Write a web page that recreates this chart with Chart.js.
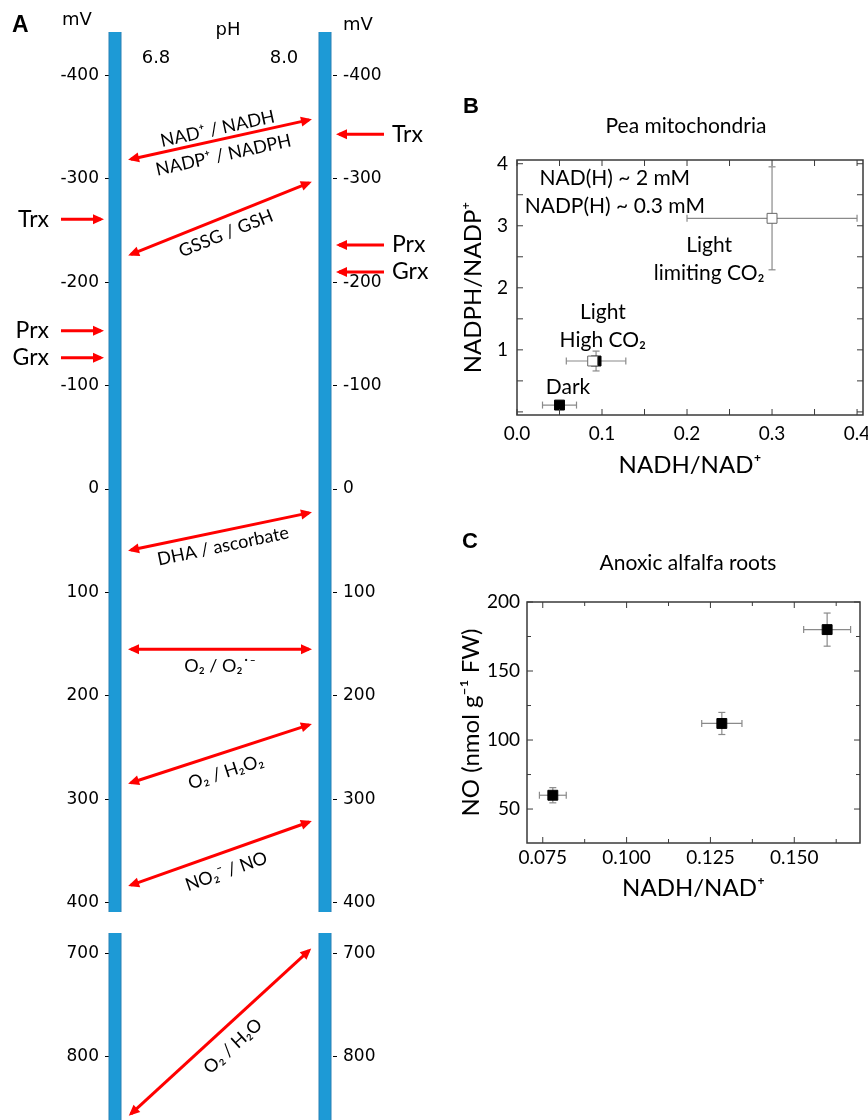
<!DOCTYPE html>
<html>
<head>
<meta charset="utf-8">
<script src="https://cdn.jsdelivr.net/npm/chart.js@4.4.1/dist/chart.umd.min.js"></script>
<style>
  html, body { margin: 0; padding: 0; background: #fff; overflow: hidden; }
  #wrap { position: relative; width: 868px; height: 1120px; overflow: hidden; }
  canvas { position: absolute; }
</style>
</head>
<body>
<div id="wrap">
  <canvas id="panelA" style="left:0;top:0" width="440" height="930"></canvas>
  <canvas id="panelA2" style="left:0;top:905px" width="440" height="250"></canvas>
  <canvas id="panelB" style="left:440px;top:80px" width="450" height="420"></canvas>
  <canvas id="panelC" style="left:440px;top:520px" width="428" height="400"></canvas>
</div>
<script>
// ---- Panel A : midpoint potentials (mV) at pH 6.8 and pH 8.0 ----
const pH = [6.8, 8.0];
const mvTicksUpper = [-400, -300, -200, -100, 0, 100, 200, 300, 400];
const mvTicksLower = [700, 800];

const coupleLabels = [
  ["NAD⁺ / NADH", "NADP⁺ / NADPH"],
  ["GSSG / GSH"],
  ["DHA / ascorbate"],
  ["O₂ / O₂˙⁻"],
  ["O₂ / H₂O₂"],
  ["NO₂⁻ / NO"],
  ["O₂ / H₂O"]
];
const coupleMvPh68 = [-319, -227, 59, 155, 284, 383, 855];
const coupleMvPh80 = [-357, -296, 23, 155, 228, 322, 697];

const proteins = ["Trx", "Prx", "Grx"];
const proteinMvPh68 = [-261, -153, -127];
const proteinMvPh80 = [-343, -236, -210];

// ---- Panel B : pea mitochondria ----
const bFilledNadh = [0.050, 0.093];
const bFilledNadhErr = [0.020, 0.035];
const bFilledNadph = [0.11, 0.82];
const bFilledNadphErr = [0.03, 0.16];
const bOpenNadh = [0.089, 0.300];
const bOpenNadhErr = [0, 0.100];
const bOpenNadph = [0.82, 3.12];
const bOpenNadphErr = [0, 0.83];
const bXTicks = [0, 0.1, 0.2, 0.3, 0.4];
const bYTicks = [1, 2, 3, 4];

// ---- Panel C : anoxic alfalfa roots ----
const cNadh = [0.078, 0.1284, 0.1598];
const cNadhErr = [0.004, 0.006, 0.007];
const cNo = [60, 112, 180];
const cNoErr = [5.5, 8, 12];
const cXTicks = [0.075, 0.1, 0.125, 0.15];
const cYTicks = [50, 100, 150, 200];

// styles
const BAR_BLUE = "#1d9ad6";
const BAR_EDGE = "#2a80b4";
const RED = "#ff0000";
const ERR_GREY = "#8a8a8a";
const CAL = 'Lato, "Open Sans", sans-serif';
const DJV = '"DejaVu Sans", sans-serif';

// x positions of panel A in pH units (175 px per pH unit)
const A_XMIN = 6.76571, A_XMAX = 8.04571;
const ARROW_L = 6.8914, ARROW_R = 7.9086;
const PROT_L_TAIL = 6.4914, PROT_L_TIP = 6.72;
const PROT_R_TAIL = 8.3371, PROT_R_TIP = 8.08;
const labelOffsets = [[-11, 16], [16], [15], [17], [19], [19], [19]];

function drawHead(ctx, from, to, color) {
  const ang = Math.atan2(to.y - from.y, to.x - from.x);
  ctx.save();
  ctx.translate(to.x + Math.cos(ang) * 3, to.y + Math.sin(ang) * 3);
  ctx.rotate(ang);
  ctx.beginPath();
  ctx.moveTo(0, 0);
  ctx.lineTo(-11, -5);
  ctx.lineTo(-11, 5);
  ctx.closePath();
  ctx.fillStyle = color;
  ctx.fill();
  ctx.restore();
}

const redoxPlugin = {
  id: "redox",
  afterDatasetsDraw(chart, args, opts) {
    const ctx = chart.ctx;
    chart.data.datasets.forEach((ds, i) => {
      if (!ds.heads) return;
      const pts = chart.getDatasetMeta(i).data;
      const a = pts[0], b = pts[1];
      drawHead(ctx, a, b, RED);
      if (ds.heads === "both") drawHead(ctx, b, a, RED);
      ctx.save();
      ctx.fillStyle = "#000";
      if (ds.texts) {
        const ang = Math.atan2(b.y - a.y, b.x - a.x);
        const mx = (a.x + b.x) / 2, my = (a.y + b.y) / 2;
        ds.texts.forEach((t, k) => {
          const off = ds.offsets[k];
          ctx.save();
          ctx.translate(mx - Math.sin(ang) * off, my + Math.cos(ang) * off);
          ctx.rotate(ang);
          ctx.font = "18px " + CAL;
          ctx.textAlign = "center";
          ctx.textBaseline = "middle";
          ctx.fillText(t, 0, 0);
          ctx.restore();
        });
      }
      if (ds.name) {
        ctx.font = "23px " + CAL;
        ctx.textBaseline = "middle";
        if (ds.side === "left") {
          ctx.textAlign = "right";
          ctx.fillText(ds.name, a.x - 12, a.y);
        } else {
          ctx.textAlign = "left";
          ctx.fillText(ds.name, a.x + 8, a.y);
        }
      }
      ctx.restore();
    });

    if (opts.headers) {
      const xs = chart.scales.x;
      ctx.save();
      ctx.fillStyle = "#000";
      ctx.textBaseline = "alphabetic";
      ctx.font = "bold 23px 'Liberation Sans', Arial, sans-serif";
      ctx.textAlign = "left";
      ctx.fillText("A", 12, 32);
      ctx.font = "18px " + DJV;
      ctx.fillText("mV", 62, 25);
      ctx.fillText("mV", 343, 30);
      ctx.textAlign = "center";
      ctx.fillText("pH", 228, 35);
      ctx.fillText(pH[0].toFixed(1), xs.getPixelForValue(pH[0]) + 41, 63);
      ctx.fillText(pH[1].toFixed(1), xs.getPixelForValue(pH[1]) - 41, 63);
      ctx.restore();
    }
  }
};

function mvAxis(position, width, ticks, min, max) {
  return {
    type: "linear",
    position: position,
    reverse: true,
    min: min,
    max: max,
    afterBuildTicks: s => { s.ticks = ticks.map(v => ({ value: v })); },
    afterFit: s => { s.width = width; },
    border: { display: false },
    grid: { drawOnChartArea: false, tickLength: 4, color: "#000", tickColor: "#000" },
    ticks: { padding: 6, color: "#000", font: { family: DJV, size: 17 }, callback: v => String(v) }
  };
}

function buildRedox(id, min, max, ticks, padTop, padBottom, headers) {
  const inRange = v => v >= min && v <= max;
  const datasets = [];
  pH.forEach(p => {
    datasets.push({ data: [{ x: p, y: min }, { x: p, y: max }], borderColor: BAR_EDGE, borderWidth: 13, order: 3, clip: false });
    datasets.push({ data: [{ x: p, y: min }, { x: p, y: max }], borderColor: BAR_BLUE, borderWidth: 11, order: 2, clip: false });
  });
  coupleLabels.forEach((lab, i) => {
    if (!inRange(coupleMvPh68[i]) || !inRange(coupleMvPh80[i])) return;
    datasets.push({
      data: [{ x: ARROW_L, y: coupleMvPh68[i] }, { x: ARROW_R, y: coupleMvPh80[i] }],
      borderColor: RED, borderWidth: 3, order: 1, clip: false,
      heads: "both", texts: lab, offsets: labelOffsets[i]
    });
  });
  proteins.forEach((name, i) => {
    if (inRange(proteinMvPh68[i])) {
      datasets.push({
        data: [{ x: PROT_L_TAIL, y: proteinMvPh68[i] }, { x: PROT_L_TIP, y: proteinMvPh68[i] }],
        borderColor: RED, borderWidth: 3, order: 1, clip: false, heads: "end", name: name, side: "left"
      });
    }
    if (inRange(proteinMvPh80[i])) {
      datasets.push({
        data: [{ x: PROT_R_TAIL, y: proteinMvPh80[i] }, { x: PROT_R_TIP, y: proteinMvPh80[i] }],
        borderColor: RED, borderWidth: 3, order: 1, clip: false, heads: "end", name: name, side: "right"
      });
    }
  });

  return new Chart(document.getElementById(id), {
    type: "line",
    data: { datasets },
    options: {
      responsive: false,
      animation: false,
      events: [],
      layout: { padding: { left: 48, right: 0, top: padTop, bottom: padBottom } },
      elements: { point: { radius: 0 }, line: { tension: 0 } },
      plugins: { legend: { display: false }, tooltip: { enabled: false }, redox: { headers: headers } },
      scales: {
        x: { type: "linear", display: false, min: A_XMIN, max: A_XMAX },
        y: mvAxis("left", 61, ticks, min, max),
        y2: mvAxis("right", 107, ticks, min, max)
      }
    },
    plugins: [redoxPlugin]
  });
}

buildRedox("panelA", -442, 409, mvTicksUpper, 32, 18, true);
buildRedox("panelA2", 680, 861, mvTicksLower, 28, 35, false);

// ---- shared helpers for B and C ----
function errSet(points, rot, order) {
  return {
    data: points, showLine: true, borderColor: ERR_GREY, borderWidth: 1.2,
    pointStyle: "line", pointRotation: rot, pointRadius: 3.5,
    pointBorderColor: ERR_GREY, pointBorderWidth: 1.2, order: order, clip: false
  };
}
function errorBars(xs, ys, xErr, yErr, order) {
  const sets = [];
  xs.forEach((x, i) => {
    if (xErr[i]) sets.push(errSet([{ x: x - xErr[i], y: ys[i] }, { x: x + xErr[i], y: ys[i] }], 90, order));
    if (yErr[i]) sets.push(errSet([{ x: x, y: ys[i] - yErr[i] }, { x: x, y: ys[i] + yErr[i] }], 0, order));
  });
  return sets;
}
function markers(xs, ys, fill, edge, order) {
  return {
    data: xs.map((x, i) => ({ x: x, y: ys[i] })),
    pointStyle: "rect", pointRadius: 7, pointBackgroundColor: fill,
    pointBorderColor: edge, pointBorderWidth: 1, order: order, clip: false
  };
}

const framePlugin = {
  id: "frame",
  afterDraw(chart, args, o) {
    const { ctx, chartArea: ca } = chart;
    const xs = chart.scales.x, ys = chart.scales.y;
    ctx.save();
    ctx.strokeStyle = "#3a3a3a";
    ctx.lineWidth = 1;
    const near = (v, step) => Math.abs(v / step - Math.round(v / step)) < 1e-6;
    for (let k = Math.ceil(xs.min / o.xStep - 1e-9); k * o.xStep <= xs.max + 1e-9; k++) {
      const v = k * o.xStep;
      const px = xs.getPixelForValue(v);
      const len = near(v, o.xMajor) ? 6 : 4;
      ctx.beginPath();
      ctx.moveTo(px, ca.bottom); ctx.lineTo(px, ca.bottom - len);
      ctx.moveTo(px, ca.top); ctx.lineTo(px, ca.top + len);
      ctx.stroke();
    }
    for (let k = Math.ceil(ys.min / o.yStep - 1e-9); k * o.yStep <= ys.max + 1e-9; k++) {
      const v = k * o.yStep;
      const py = ys.getPixelForValue(v);
      const len = near(v, o.yMajor) ? 6 : 4;
      ctx.beginPath();
      ctx.moveTo(ca.left, py); ctx.lineTo(ca.left + len, py);
      ctx.moveTo(ca.right, py); ctx.lineTo(ca.right - len, py);
      ctx.stroke();
    }
    ctx.lineWidth = 1.5;
    ctx.strokeRect(ca.left, ca.top, ca.right - ca.left, ca.bottom - ca.top);

    ctx.fillStyle = "#000";
    ctx.textBaseline = "alphabetic";
    ctx.font = "bold 22px 'Liberation Sans', Arial, sans-serif";
    ctx.textAlign = "left";
    ctx.fillText(o.letter, o.letterAt[0], o.letterAt[1]);
    ctx.font = "21px " + CAL;
    ctx.textAlign = "center";
    ctx.fillText(o.title, o.titleAt[0], o.titleAt[1]);
    ctx.textBaseline = "middle";
    (o.notes || []).forEach(n => {
      ctx.fillText(n.text, xs.getPixelForValue(n.x), ys.getPixelForValue(n.y));
    });
    ctx.restore();
  }
};

function frameAxis(pos, min, max, ticks, fmt, title, size, padding) {
  const ax = {
    type: "linear", position: pos, min: min, max: max,
    afterBuildTicks: s => { s.ticks = ticks.map(v => ({ value: v })); },
    border: { display: false },
    grid: { display: false, drawTicks: false },
    ticks: { padding: padding, color: "#000", font: { family: CAL, size: 19 }, callback: fmt },
    title: { display: true, text: title, color: "#000", font: { family: CAL, size: 24 }, padding: 0 }
  };
  if (pos === "left") ax.afterFit = s => { s.width = size; };
  else ax.afterFit = s => { s.height = size; };
  return ax;
}

// ---- Panel B ----
new Chart(document.getElementById("panelB"), {
  type: "scatter",
  data: {
    datasets: [
      ...errorBars(bFilledNadh, bFilledNadph, bFilledNadhErr, bFilledNadphErr, 3),
      ...errorBars(bOpenNadh, bOpenNadph, bOpenNadhErr, bOpenNadphErr, 3),
      markers(bFilledNadh, bFilledNadph, "#000", "#000", 2),
      markers(bOpenNadh, bOpenNadph, "#fff", "#666", 1)
    ]
  },
  options: {
    responsive: false, animation: false, events: [],
    layout: { padding: { left: 19, right: 27, top: 80, bottom: 20 } },
    plugins: {
      legend: { display: false }, tooltip: { enabled: false },
      frame: {
        xStep: 0.05, xMajor: 0.05, yStep: 0.5, yMajor: 0.5,
        letter: "B", letterAt: [23, 33], title: "Pea mitochondria", titleAt: [246, 53],
        notes: [
          { text: "NAD(H) ~ 2 mM", x: 0.115, y: 3.76 },
          { text: "NADP(H) ~ 0.3 mM", x: 0.115, y: 3.31 },
          { text: "Light", x: 0.226, y: 2.68 },
          { text: "limiting CO₂", x: 0.226, y: 2.23 },
          { text: "Light", x: 0.101, y: 1.61 },
          { text: "High CO₂", x: 0.101, y: 1.16 },
          { text: "Dark", x: 0.060, y: 0.39 }
        ]
      }
    },
    scales: {
      x: frameAxis("bottom", 0, 0.407, bXTicks, v => v.toFixed(1), "NADH/NAD⁺", 65, 7),
      y: frameAxis("left", -0.05, 4.06, bYTicks, v => String(v), "NADPH/NADP⁺", 58, 9)
    }
  },
  plugins: [framePlugin]
});

// ---- Panel C ----
new Chart(document.getElementById("panelC"), {
  type: "scatter",
  data: {
    datasets: [
      ...errorBars(cNadh, cNo, cNadhErr, cNoErr, 2),
      markers(cNadh, cNo, "#000", "#000", 1)
    ]
  },
  options: {
    responsive: false, animation: false, events: [],
    layout: { padding: { left: 17, right: 6, top: 82, bottom: 17 } },
    plugins: {
      legend: { display: false }, tooltip: { enabled: false },
      frame: {
        xStep: 0.0125, xMajor: 0.025, yStep: 25, yMajor: 50,
        letter: "C", letterAt: [22, 28], title: "Anoxic alfalfa roots", titleAt: [248, 50]
      }
    },
    scales: {
      x: frameAxis("bottom", 0.0703, 0.1696, cXTicks, v => v.toFixed(3), "NADH/NAD⁺", 60, 3),
      y: frameAxis("left", 25.4, 200, cYTicks, v => String(v), "NO (nmol g⁻¹ FW)", 70, 7)
    }
  },
  plugins: [framePlugin]
});
</script>
</body>
</html>
